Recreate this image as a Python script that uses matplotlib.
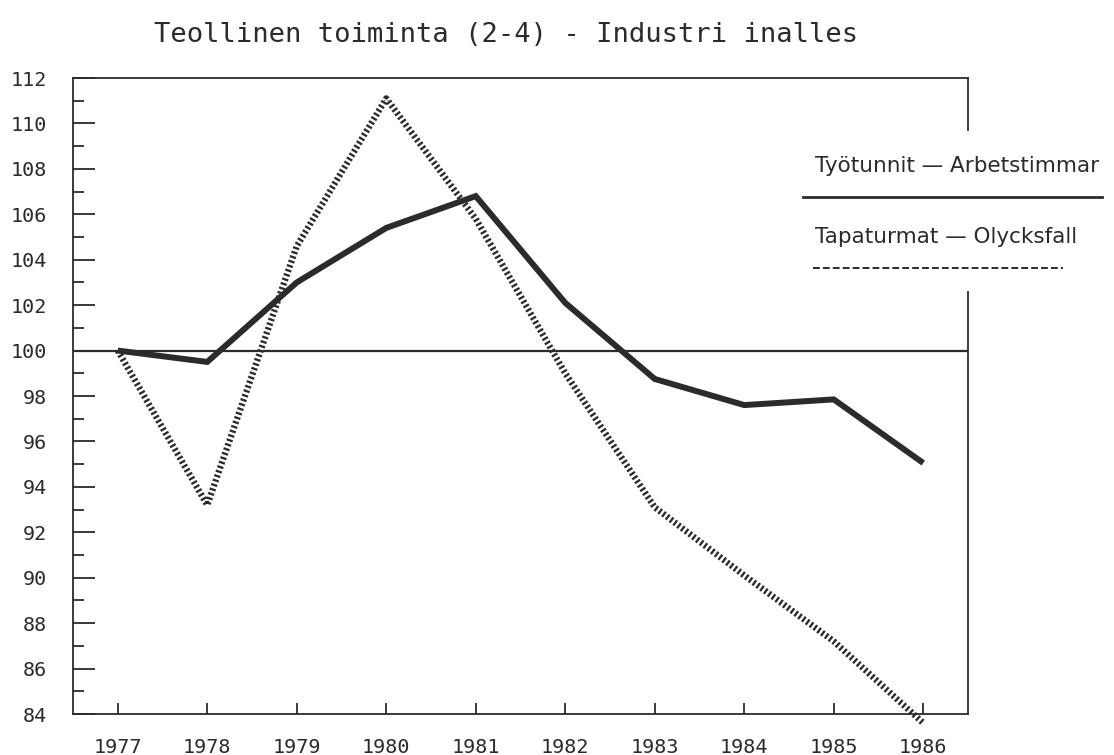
import matplotlib
matplotlib.use("Agg")
import matplotlib.pyplot as plt
from matplotlib.lines import Line2D
import numpy as np

# Data (index, 1977 = 100)
years = [1977, 1978, 1979, 1980, 1981, 1982, 1983, 1984, 1985, 1986]
tyotunnit = [100.0, 99.5, 103.0, 105.4, 106.8, 102.1, 98.75, 97.6, 97.85, 95.05]
tapaturmat = [100.0, 93.2, 104.6, 111.1, 105.8, 99.0, 93.1, 90.1, 87.2, 83.6]

title = "Teollinen toiminta (2-4) - Industri inalles"
label_hours = "Työtunnit \u2014 Arbetstimmar"
label_acc = "Tapaturmat \u2014 Olycksfall"

ink = "#2b2b2b"
mono = "DejaVu Sans Mono"
sans = "DejaVu Sans"

fig = plt.figure(figsize=(11.14, 7.55), dpi=100)
ax = fig.add_axes([73 / 1114, 1 - 714 / 755, (968 - 73) / 1114, (714 - 78) / 755])

# baseline at 100
ax.axhline(100, color=ink, linewidth=1.6, zorder=1)

# accidents: thick, densely dashed line
ax.plot(years, tapaturmat, color=ink, linewidth=4.6,
        linestyle=(0, (0.36, 0.38)), clip_on=False, zorder=2)
# working hours: heavy solid line
ax.plot(years, tyotunnit, color=ink, linewidth=4.3,
        solid_joinstyle="miter", solid_capstyle="butt", zorder=3)

ax.set_xlim(1976.5, 1986.5)
ax.set_ylim(84, 112)
ax.set_xticks(years)
ax.set_yticks(np.arange(84, 113, 2))
ax.set_yticks(np.arange(85, 112, 2), minor=True)

for s in ["left", "bottom", "top"]:
    ax.spines[s].set_color(ink)
    ax.spines[s].set_linewidth(1.3)
ax.spines["right"].set_visible(False)
# right frame is broken where the legend sits
ax.axvline(1986.5, ymin=(714 - 130) / 636, ymax=1, color=ink, linewidth=1.3, clip_on=False)
ax.axvline(1986.5, ymin=0, ymax=(714 - 292) / 636, color=ink, linewidth=1.3, clip_on=False)

ax.tick_params(axis="y", which="major", direction="in", length=16, width=1.3,
               color=ink, pad=19, labelsize=14.5)
ax.tick_params(axis="y", which="minor", direction="in", length=8, width=1.3, color=ink)
ax.tick_params(axis="x", which="major", direction="in", length=8, width=1.3,
               color=ink, pad=17, labelsize=14.5)
for lab in ax.get_xticklabels() + ax.get_yticklabels():
    lab.set_family(mono)
    lab.set_color(ink)

fig.text(0.454, 1 - 35 / 755, title, family=mono, fontsize=19.5,
         ha="center", va="center", color=ink)

# hand-drawn legend on the right
fig.text(815 / 1114, 1 - 166 / 755, label_hours, family=sans, fontsize=15.5,
         ha="left", va="center", color=ink)
fig.add_artist(Line2D([803 / 1114, 1102 / 1114], [1 - 197 / 755, 1 - 197 / 755],
                      color=ink, linewidth=2.0))
fig.text(815 / 1114, 1 - 237 / 755, label_acc, family=sans, fontsize=15.5,
         ha="left", va="center", color=ink)
fig.add_artist(Line2D([813 / 1114, 1063 / 1114], [1 - 268 / 755, 1 - 268 / 755],
                      color=ink, linewidth=1.4, linestyle=(0, (3.5, 1.6))))

fig.savefig("out.png", dpi=100)
